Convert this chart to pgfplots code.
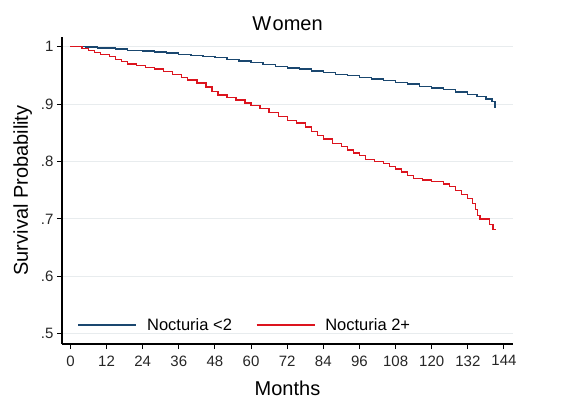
\documentclass[border=0pt]{standalone}
\usepackage{fontspec}
\setmainfont{Liberation Sans}
\usepackage{pgfplots}
\pgfplotsset{compat=1.18}
\usetikzlibrary{calc}

\definecolor{statablue}{RGB}{26,71,111}
\definecolor{statared}{RGB}{220,20,30}
\definecolor{gridgray}{RGB}{232,236,238}

% Kaplan-Meier estimates
\pgfplotstableread{
t     s
0     1.000
5     0.9995
9     0.998
15    0.996
19    0.994
24    0.9925
28    0.991
32    0.989
36    0.987
40    0.985
44    0.983
48    0.981
52    0.978
56    0.975
60    0.972
64    0.969
68    0.966
72    0.963
76    0.961
80    0.958
84    0.955
88    0.952
92    0.950
96    0.947
100   0.944
104   0.941
108   0.938
112   0.935
116   0.931
120   0.928
124   0.925
128   0.921
132   0.917
135   0.913
138   0.909
140   0.905
141   0.895
141.2 0.895
}\lowgroup

\pgfplotstableread{
t     s
0     1.000
3.8   0.997
6     0.993
8     0.990
10    0.987
13    0.983
15    0.978
17    0.974
19    0.970
22    0.967
25    0.964
28    0.961
31    0.957
34    0.952
37    0.946
39    0.942
42    0.937
45    0.930
47    0.922
49    0.916
52    0.912
55    0.907
58    0.902
60    0.898
63    0.892
66    0.886
69    0.878
72    0.871
75    0.867
78    0.860
80    0.852
82    0.845
84    0.839
87    0.832
90    0.826
92    0.820
94    0.815
96    0.810
98    0.804
101   0.800
104   0.796
106   0.791
108   0.787
110   0.782
112   0.776
114   0.771
117   0.768
120   0.765
124   0.761
126   0.756
128   0.749
130   0.742
132   0.735
133.5 0.727
134.5 0.716
135.3 0.706
136   0.700
139.3 0.690
140.4 0.681
141.2 0.681
}\highgroup

\begin{document}
\begin{tikzpicture}
\begin{axis}[
    scale only axis,
    width=451pt, height=307pt,
    xmin=-2.8, xmax=147,
    ymin=0.482, ymax=1.017,
    axis x line*=bottom, axis y line*=left,
    axis line style={black, line width=1.1pt, -},
    xtick={0,12,...,144},
    ytick={0.5,0.6,0.7,0.8,0.9,1},
    yticklabels={.5,.6,.7,.8,.9,1},
    tick align=outside,
    major tick length=5pt,
    tick style={black, line width=1pt},
    ymajorgrids,
    grid style={gridgray, line width=1pt},
    /pgf/number format/assume math mode=true,
    ticklabel style={font=\fontsize{15}{17}\selectfont, text=black!85},
    xticklabel style={yshift=-3pt},
    title={W\kern1.5pt omen},
    title style={font=\fontsize{20}{24}\selectfont, at={(0.5,1)}, anchor=south, yshift=-3pt},
    xlabel={Months},
    xlabel style={font=\fontsize{20}{24}\selectfont, yshift=-8pt},
    ylabel={Survival Probability},
    ylabel style={font=\fontsize{20}{24}\selectfont, yshift=2pt},
    legend columns=2,
    legend style={draw=none, fill=none, at={(0.028,0.062)}, anchor=west,
        font=\fontsize{16.5}{19}\selectfont,
        /tikz/every even column/.append style={column sep=22pt},
        /tikz/every odd column/.append style={column sep=8pt}},
    legend cell align=left,
    legend image code/.code={\draw[#1] (0pt,0pt) -- (58pt,0pt);},
]
\addplot[statablue, line width=1.3pt, const plot] table[x=t, y=s] {\lowgroup};
\addlegendentry{Nocturia <2}
\addplot[statared, line width=1.3pt, const plot] table[x=t, y=s] {\highgroup};
\addlegendentry{Nocturia 2+}
\end{axis}
\path ($(current axis.south west)+(-62pt,-61pt)$) rectangle ($(current axis.north east)+(65pt,37pt)$);
\end{tikzpicture}
\end{document}
